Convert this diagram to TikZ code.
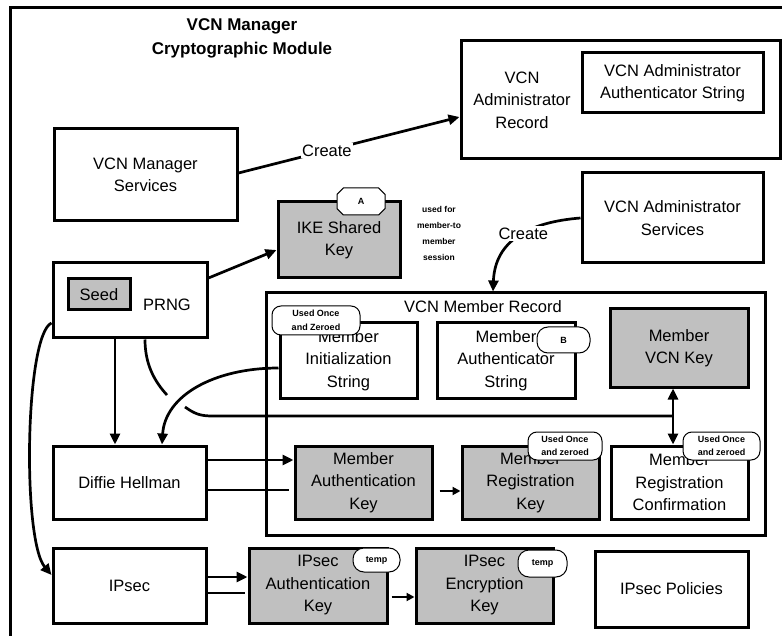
\documentclass[tikz,border=0pt]{standalone}
\usepackage{fontspec}
\setmainfont{Liberation Sans}
\usetikzlibrary{arrows.meta,shapes.misc}

\definecolor{keygray}{RGB}{192,192,192}

\newcommand\dgbody{\fontsize{16.5}{22.5}\selectfont}
\newcommand\dgtitle{\fontsize{17}{24}\selectfont\bfseries}
\newcommand\dgtag{\fontsize{9}{13.5}\selectfont\bfseries}
\newcommand\dgnote{\fontsize{8.5}{16}\selectfont\bfseries}

\tikzset{
  box/.style={draw=black, line width=3pt, fill=white, inner sep=0pt, align=center, font=\dgbody},
  keybox/.style={box, fill=keygray},
  plaintext/.style={inner sep=0pt, align=center, font=\dgbody},
  tag/.style={draw=black, line width=1pt, fill=white, rounded corners=9pt, inner sep=0pt, align=center, font=\dgtag},
  conn/.style={line width=2.7pt, draw=black},
  arr/.style={conn, -{Triangle[length=11pt,width=10pt]}},
  smallarr/.style={conn, -{Triangle[length=8pt,width=8pt]}},
}

\begin{document}
\begin{tikzpicture}[x=1pt,y=-1pt]
\useasboundingbox (0,0) rectangle (782,636);

% module frame, running off the page on the right and bottom
\begin{scope}
  \clip (0,0) rectangle (782,636);
  \draw[line width=3pt] (10.5,7.5) rectangle (830,690);
\end{scope}

\node[font=\dgtitle, align=center, inner sep=0pt] (title) at (242,38) {VCN Manager\\Cryptographic Module};

% top row
\node[box, minimum width=183, minimum height=92] (vms) at (145.5,175) {VCN Manager\\Services};
\node[box, minimum width=319, minimum height=118] (adminrec) at (620.5,100) {};
\node[plaintext] (adminrectext) at (522,100) {VCN\\Administrator\\Record};
\node[box, minimum width=181, minimum height=60] (adminauth) at (672.5,83) {VCN Administrator\\Authenticator String};

\node[keybox, minimum width=122, minimum height=76] (ike) at (339,240) {IKE Shared\\Key};
\node[tag, shape=chamfered rectangle, chamfered rectangle xsep=7pt, rounded corners=0pt, minimum width=48, minimum height=27] (tagA) at (361,201.5) {A};
\node[font=\dgnote, align=center, inner sep=0pt] (ikenote) at (439,233) {used for\\member-to\\member\\session};

\node[box, minimum width=181, minimum height=90] (adminsvc) at (672.5,218) {VCN Administrator\\Services};

% PRNG
\node[box, minimum width=154, minimum height=75] (prng) at (130,300.5) {};
\node[keybox, minimum width=62, minimum height=31] (seed) at (99,294.5) {Seed};
\node[plaintext] (prngtext) at (167,305) {PRNG};

% member record
\node[box, minimum width=499, minimum height=242] (memrec) at (515.5,414) {};
\node[plaintext] (memrectitle) at (483,307) {VCN Member Record};

\node[box, minimum width=137, minimum height=75] (mis) at (348.5,360.5) {Member\\Initialization\\String};
\node[box, minimum width=138, minimum height=75] (mas) at (506,360.5) {Member\\Authenticator\\String};
\node[keybox, minimum width=138, minimum height=78] (mvk) at (679,348) {Member\\VCN Key};

\node[box, minimum width=153, minimum height=73] (dh) at (129.5,482.5) {Diffie Hellman};
\node[keybox, minimum width=137, minimum height=73] (mak) at (363.5,482.5) {Member\\Authentication\\Key};
\node[keybox, minimum width=137, minimum height=73] (mrk) at (530.5,482.5) {Member\\Registration\\Key};
\node[box, minimum width=137, minimum height=73] (mrc) at (679.5,482.5) {Member\\Registration\\Confirmation};

% IPsec row
\node[box, minimum width=153, minimum height=75] (ipsec) at (129.5,585.5) {IPsec};
\node[keybox, minimum width=138, minimum height=75] (iak) at (318,585.5) {IPsec\\Authentication\\Key};
\node[keybox, minimum width=137, minimum height=75] (iek) at (484.5,585.5) {IPsec\\Encryption\\Key};
\node[box, minimum width=153, minimum height=76] (ipp) at (671.5,589) {IPsec Policies};

% tags
\node[tag, minimum width=88, minimum height=29] (tagmis) at (316,320.5) {Used Once\\and Zeroed};
\node[tag, rounded corners=11pt, minimum width=53, minimum height=26] (tagB) at (563.5,340) {B};
\node[tag, minimum width=74, minimum height=28] (tagmrk) at (565,446) {Used Once\\and zeroed};
\node[tag, minimum width=77, minimum height=28] (tagmrc) at (721.5,446) {Used Once\\and zeroed};
\node[tag, rounded corners=11pt, minimum width=47, minimum height=24] (tagiak) at (376.5,560) {temp};
\node[tag, rounded corners=11pt, minimum width=49, minimum height=27] (tagiek) at (542.5,563.5) {temp};

% line-jump points and junction of the PRNG feed
\coordinate (jumpA) at (167,395);
\coordinate (jumpB) at (185,407);
\coordinate (joint) at (673,416);

% connectors
\draw[arr] (vms.east |- 0,173) -- node[pos=0.4, fill=white, font=\dgbody, inner sep=1.5pt] (create1) {Create} (adminrec.west |- 0,117);
\draw[arr] (adminsvc.west) .. controls (530,222) and (495,240) .. node[pos=0.45, fill=white, font=\dgbody, inner sep=1.5pt] (create2) {Create} (memrec.north -| 493,0);

\draw[arr] (prng.east |- 0,278) -- (ike.west |- 0,250);
\draw[arr] (prng.south -| 115,0) -- (dh.north -| 115,0);

\draw[conn] (prng.south -| 145,0) .. controls (145,365) and (155,382) .. (jumpA);
\draw[conn] (jumpB) .. controls (195,414) and (200,416) .. (213,416) -- (joint);

\draw[arr] ([yshift=-7.5pt]mis.west) .. controls (215,368) and (165,395) .. (dh.north -| 162,0);

\draw[conn, {Triangle[length=11pt,width=10pt]}-{Triangle[length=11pt,width=10pt]}] (mvk.south -| 673,0) -- (mrc.north -| 673,0);

\draw[arr] (dh.east |- 0,460) -- (mak.west |- 0,460);
\draw[conn, shorten >=5pt] (dh.east |- 0,490) -- (mak.west |- 0,490);
\draw[smallarr, shorten <=6pt] (mak.east |- 0,491) -- (mrk.west |- 0,491);

\draw[arr] (prng.west |- 0,323) .. controls (25,335) and (22,540) .. (ipsec.west |- 0,575);

\draw[arr] (ipsec.east |- 0,577) -- (iak.west |- 0,577);
\draw[conn, shorten >=3pt] (ipsec.east |- 0,593) -- (iak.west |- 0,593);
\draw[smallarr, shorten <=3pt] (iak.east |- 0,597) -- (iek.west |- 0,597);

\end{tikzpicture}
\end{document}
